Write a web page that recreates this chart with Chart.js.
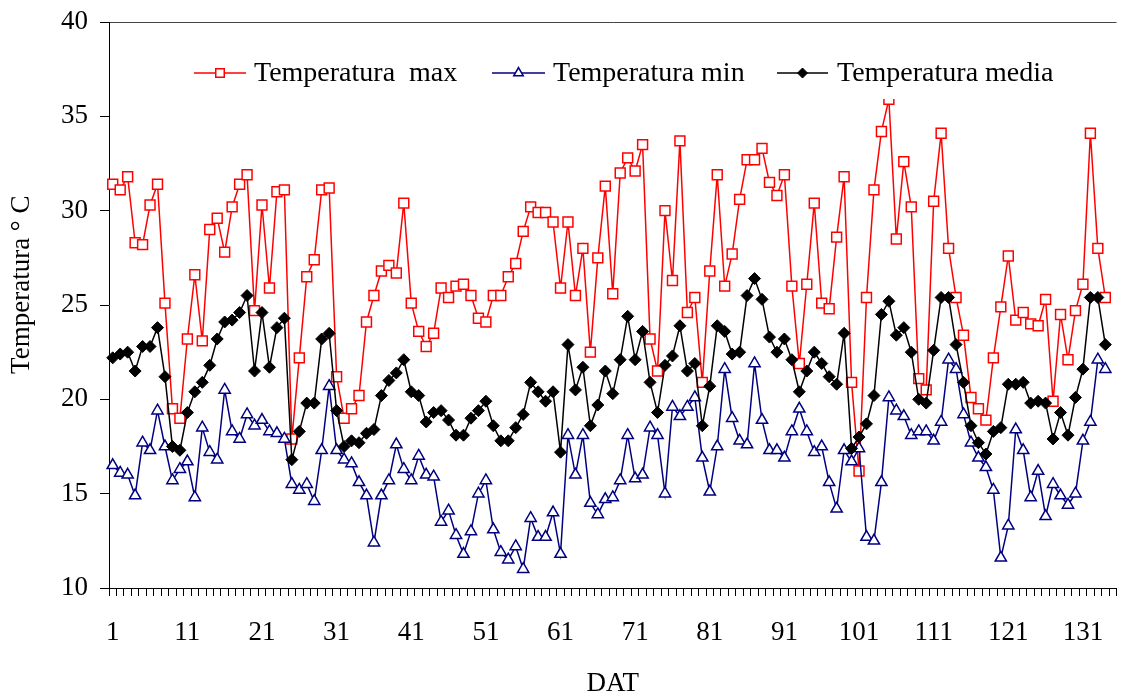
<!DOCTYPE html>
<html>
<head>
<meta charset="utf-8">
<title>Temperatura</title>
<script src="https://cdn.jsdelivr.net/npm/chart.js@4/dist/chart.umd.min.js"></script>
<style>
  body { margin: 0; background: #fff; overflow: hidden; }
  .chart-wrap { width: 1125px; height: 697px; }
  canvas { display: block; }
</style>
</head>
<body>
<div class="chart-wrap"><canvas class="js-chart-place"></canvas></div>
<script>
// DAT slots on the axis; only the first 134 days have readings
const categories = Array.from({ length: 135 }, (_, i) => String(i + 1));
const shownTicks = ['1', '11', '21', '31', '41', '51', '61', '71', '81', '91', '101', '111', '121', '131'];
const yTicks = [10, 15, 20, 25, 30, 35, 40];

const tempMax = [
  31.4, 31.1, 31.8, 28.3, 28.2, 30.3, 31.4, 25.1, 19.5, 19.0,
  23.2, 26.6, 23.1, 29.0, 29.6, 27.8, 30.2, 31.4, 31.9, 24.7,
  30.3, 25.9, 31.0, 31.1, 17.9, 22.2, 26.5, 27.4, 31.1, 31.2,
  21.2, 19.0, 19.5, 20.2, 24.1, 25.5, 26.8, 27.1, 26.7, 30.4,
  25.1, 23.6, 22.8, 23.5, 25.9, 25.4, 26.0, 26.1, 25.5, 24.3,
  24.1, 25.5, 25.5, 26.5, 27.2, 28.9, 30.2, 29.9, 29.9, 29.4,
  25.9, 29.4, 25.5, 28.0, 22.5, 27.5, 31.3, 25.6, 32.0, 32.8,
  32.1, 33.5, 23.2, 21.5, 30.0, 26.3, 33.7, 24.6, 25.4, 20.9,
  26.8, 31.9, 26.0, 27.7, 30.6, 32.7, 32.7, 33.3, 31.5, 30.8,
  31.9, 26.0, 21.9, 26.1, 30.4, 25.1, 24.8, 28.6, 31.8, 20.9,
  16.2, 25.4, 31.1, 34.2, 35.9, 28.5, 32.6, 30.2, 21.1, 20.5,
  30.5, 34.1, 28.0, 25.4, 23.4, 20.1, 19.5, 18.9, 22.2, 24.9,
  27.6, 24.2, 24.6, 24.0, 23.9, 25.3, 19.9, 24.5, 22.1, 24.7,
  26.1, 34.1, 28.0, 25.4
];

const tempMin = [
  16.5, 16.1, 16.0, 14.9, 17.7, 17.3, 19.4, 17.5, 15.7, 16.3,
  16.7, 14.8, 18.5, 17.2, 16.8, 20.5, 18.3, 17.9, 19.2, 18.6,
  18.9, 18.3, 18.2, 17.9, 15.5, 15.2, 15.5, 14.6, 17.3, 20.7,
  17.3, 16.8, 16.6, 15.6, 14.9, 12.4, 14.9, 15.7, 17.6, 16.3,
  15.7, 17.0, 16.0, 15.9, 13.5, 14.1, 12.8, 11.8, 13.0, 15.0,
  15.7, 13.1, 11.9, 11.5, 12.2, 11.0, 13.7, 12.7, 12.7, 14.0,
  11.8, 18.1, 16.0, 18.1, 14.5, 13.9, 14.7, 14.8, 15.7, 18.1,
  15.8, 16.0, 18.5, 18.1, 15.0, 19.6, 19.1, 19.6, 20.1, 16.9,
  15.1, 17.5, 21.6, 19.0, 17.8, 17.6, 21.9, 18.9, 17.3, 17.3,
  16.9, 18.3, 19.5, 18.3, 17.2, 17.5, 15.6, 14.2, 17.3, 16.7,
  17.4, 12.7, 12.5, 15.6, 20.1, 19.4, 19.1, 18.1, 18.3, 18.3,
  17.8, 18.8, 22.1, 21.6, 19.2, 17.7, 16.9, 16.4, 15.2, 11.6,
  13.3, 18.4, 17.3, 14.8, 16.2, 13.8, 15.5, 14.9, 14.4, 15.0,
  17.8, 18.8, 22.1, 21.6
];

const tempMedia = [
  22.2, 22.4, 22.5, 21.5, 22.8, 22.8, 23.8, 21.2, 17.5, 17.3,
  19.3, 20.4, 20.9, 21.8, 23.2, 24.1, 24.2, 24.6, 25.5, 21.5,
  24.6, 21.7, 23.8, 24.3, 16.8, 18.3, 19.8, 19.8, 23.2, 23.5,
  19.4, 17.5, 17.8, 17.7, 18.2, 18.4, 20.2, 21.0, 21.4, 22.1,
  20.4, 20.2, 18.8, 19.3, 19.4, 18.9, 18.1, 18.1, 19.0, 19.4,
  19.9, 18.6, 17.8, 17.8, 18.5, 19.2, 20.9, 20.4, 19.9, 20.4,
  17.2, 22.9, 20.5, 21.7, 18.6, 19.7, 21.5, 20.3, 22.1, 24.4,
  22.1, 23.6, 20.9, 19.3, 21.8, 22.3, 23.9, 21.5, 21.9, 18.6,
  20.7, 23.9, 23.6, 22.4, 22.5, 25.5, 26.4, 25.3, 23.3, 22.5,
  23.2, 22.1, 20.4, 21.5, 22.5, 21.9, 21.2, 20.8, 23.5, 17.4,
  18.0, 18.7, 20.2, 24.5, 25.2, 23.4, 23.8, 22.5, 20.0, 19.8,
  22.6, 25.4, 25.4, 22.9, 20.9, 18.6, 17.7, 17.1, 18.3, 18.5,
  20.8, 20.8, 20.9, 19.8, 19.9, 19.8, 17.9, 19.3, 18.1, 20.1,
  21.6, 25.4, 25.4, 22.9
];

const serif = '"Liberation Serif", "Times New Roman", serif';

// legend sits inside the plot on a white box, like the original
const legendSpots = [
  { lineFrom: 194, lineTo: 246, textX: 254, text: 'Temperatura  max' },
  { lineFrom: 492, lineTo: 545, textX: 553, text: 'Temperatura min' },
  { lineFrom: 777, lineTo: 828, textX: 837, text: 'Temperatura media' }
];

const legendInPlot = {
  id: 'legendInPlot',
  afterDatasetsDraw(chart) {
    const ctx = chart.ctx;
    const y = 73;
    ctx.save();
    ctx.fillStyle = '#fff';
    ctx.fillRect(186, 49, 882, 50);
    ctx.font = '28px ' + serif;
    ctx.textBaseline = 'middle';
    chart.data.datasets.forEach((ds, i) => {
      const spot = legendSpots[i];
      ctx.strokeStyle = ds.borderColor;
      ctx.lineWidth = 1.5;
      ctx.beginPath();
      ctx.moveTo(spot.lineFrom, y);
      ctx.lineTo(spot.lineTo, y);
      ctx.stroke();
      ctx.fillStyle = ds.pointBackgroundColor;
      ctx.strokeStyle = ds.pointBorderColor;
      ctx.lineWidth = ds.pointBorderWidth;
      Chart.helpers.drawPoint(ctx, {
        pointStyle: ds.pointStyle,
        radius: ds.pointRadius - 1,
        borderWidth: ds.pointBorderWidth,
        rotation: 0
      }, (spot.lineFrom + spot.lineTo) / 2, y);
      ctx.fillStyle = '#000';
      ctx.fillText(spot.text, spot.textX, y + 1);
    });
    ctx.restore();
  }
};

const chartPlaceElement = document.querySelector('.js-chart-place');

new Chart(chartPlaceElement, {
  type: 'line',
  data: {
    labels: categories,
    datasets: [{
      label: 'Temperatura  max',
      data: tempMax,
      borderColor: '#ff0000',
      borderWidth: 1.5,
      pointStyle: 'rect',
      pointRadius: 7,
      pointBorderWidth: 1.5,
      pointBorderColor: '#ff0000',
      pointBackgroundColor: '#ffffff',
      order: 2
    }, {
      label: 'Temperatura min',
      data: tempMin,
      borderColor: '#000080',
      borderWidth: 1.5,
      pointStyle: 'triangle',
      pointRadius: 6.5,
      pointBorderWidth: 1.5,
      pointBorderColor: '#000080',
      pointBackgroundColor: '#ffffff',
      order: 1
    }, {
      label: 'Temperatura media',
      data: tempMedia,
      borderColor: '#000000',
      borderWidth: 1.5,
      pointStyle: 'rectRot',
      pointRadius: 6,
      pointBorderWidth: 1,
      pointBorderColor: '#000000',
      pointBackgroundColor: '#000000',
      order: 0
    }]
  },
  options: {
    responsive: true,
    maintainAspectRatio: false,
    animation: false,
    layout: { padding: { top: 22, right: 6, bottom: 0, left: 0 } },
    plugins: {
      legend: { display: false },
      tooltip: { enabled: false }
    },
    elements: { line: { tension: 0 } },
    scales: {
      x: {
        type: 'category',
        offset: true,
        afterFit: (scale) => { scale.height = 109; },
        border: { color: '#000', width: 1 },
        grid: {
          offset: true,
          drawOnChartArea: false,
          tickLength: 8,
          tickColor: '#000'
        },
        ticks: {
          autoSkip: false,
          maxRotation: 0,
          padding: 0,
          color: '#000',
          // tall line height pushes the labels down without adding side padding
          font: { family: serif, size: 27, lineHeight: 2.7 },
          callback: function (value) {
            const lbl = this.getLabelForValue(value);
            return shownTicks.includes(lbl) ? lbl : '';
          }
        },
        title: {
          display: true,
          text: 'DAT',
          color: '#000',
          font: { family: serif, size: 27, lineHeight: 1 },
          padding: { top: 0, bottom: 0 }
        }
      },
      y: {
        min: 10,
        max: 40,
        afterFit: (scale) => { scale.width = 109; },
        afterBuildTicks: (scale) => {
          scale.ticks = yTicks.map((v) => ({ value: v }));
        },
        border: { color: '#000', width: 1 },
        grid: {
          color: (c) => (c.tick && c.tick.value === 40 ? '#444' : 'rgba(0,0,0,0)'),
          tickLength: 9,
          tickColor: '#000'
        },
        ticks: {
          padding: 12,
          color: '#000',
          font: { family: serif, size: 27, lineHeight: 0.7 }
        },
        title: {
          display: true,
          text: '\u2002\u2002\u2002Temperatura \u00b0 C',
          color: '#000',
          font: { family: serif, size: 27, lineHeight: 1 },
          padding: { top: 8, bottom: 0 }
        }
      }
    }
  },
  plugins: [legendInPlot]
});
</script>
</body>
</html>
